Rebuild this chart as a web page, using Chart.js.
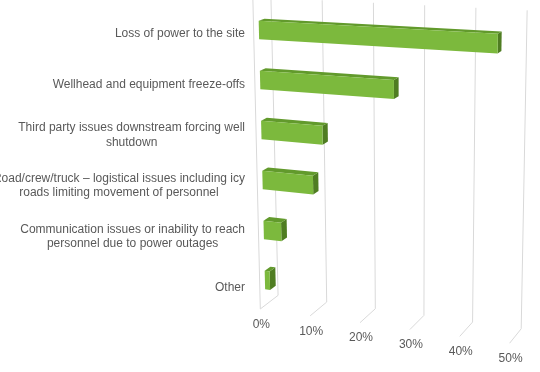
<!DOCTYPE html>
<html>
<head>
<meta charset="utf-8">
<script src="https://cdn.jsdelivr.net/npm/chart.js@4"></script>
<style>
  html, body { margin: 0; padding: 0; background: #fff; }
</style>
</head>
<body>
<canvas id="chart" width="540" height="372"></canvas>
<script>
const categories = [
  "Loss of power to the site",
  "Wellhead and equipment freeze-offs",
  ["Third party issues downstream forcing well", "shutdown"],
  ["Road/crew/truck \u2013 logistical issues including icy", "roads limiting movement of personnel"],
  ["Communication issues or inability to reach", "personnel due to power outages"],
  "Other"
];
const shares = [46, 26, 12, 10, 3.5, 1];
const tickValues = [0, 10, 20, 30, 40, 50];
const tickLabels = ["0%", "10%", "20%", "30%", "40%", "50%"];

// where the front plane of the bars lands on screen, and the depth vanishing point
const quad = { tl: [258.3, 5], tr: [519, 18], bl: [265.5, 305], br: [513, 339] };
const vanish = [976, -239];
const depth = { front: -0.0073, barBack: 0.008, wall: 0.0177, label: -0.014 };

const perspective = {
  id: "perspective",
  beforeDatasetsDraw() {
    return false; // bars are drawn below, in perspective
  },
  afterDraw(chart) {
    const ctx = chart.ctx;
    const area = chart.chartArea;
    const xs = chart.scales.x;
    const H = area.bottom - area.top;

    function proj(px, py, lam) {
      const u = (px - area.left) / (area.right - area.left);
      const v = (py - area.top) / H;
      const tx = quad.tl[0] + (quad.tr[0] - quad.tl[0]) * u;
      const ty = quad.tl[1] + (quad.tr[1] - quad.tl[1]) * u;
      const bx = quad.bl[0] + (quad.br[0] - quad.bl[0]) * u;
      const by = quad.bl[1] + (quad.br[1] - quad.bl[1]) * u;
      const x = tx + (bx - tx) * v;
      const y = ty + (by - ty) * v;
      return [x + lam * (vanish[0] - x), y + lam * (vanish[1] - y)];
    }

    function poly(pts, fill) {
      ctx.beginPath();
      ctx.moveTo(pts[0][0], pts[0][1]);
      for (let i = 1; i < pts.length; i++) ctx.lineTo(pts[i][0], pts[i][1]);
      ctx.closePath();
      ctx.fillStyle = fill;
      ctx.fill();
    }

    ctx.save();
    // walls + floor
    ctx.strokeStyle = "#d9d9d9";
    ctx.lineWidth = 1;
    tickValues.forEach((t) => {
      const px = xs.getPixelForValue(t);
      const a = proj(px, area.top - 0.01 * H, depth.wall);
      const b = proj(px, area.bottom, depth.wall);
      const c = proj(px, area.bottom, depth.front);
      ctx.beginPath();
      ctx.moveTo(a[0], a[1]);
      ctx.lineTo(b[0], b[1]);
      ctx.lineTo(c[0], c[1]);
      ctx.stroke();
    });
    const e1 = proj(area.left, area.top - 0.03 * H, depth.front);
    const e2 = proj(area.left, area.bottom, depth.front);
    ctx.beginPath();
    ctx.moveTo(e1[0], e1[1]);
    ctx.lineTo(e2[0], e2[1]);
    ctx.stroke();

    // bars
    const meta = chart.getDatasetMeta(0);
    meta.data.forEach((bar) => {
      const p = bar.getProps(["x", "y", "base", "height"], true);
      const y0 = p.y - p.height / 2, y1 = p.y + p.height / 2;
      const ftl = proj(p.base, y0, 0), ftr = proj(p.x, y0, 0);
      const fbr = proj(p.x, y1, 0), fbl = proj(p.base, y1, 0);
      const btl = proj(p.base, y0, depth.barBack), btr = proj(p.x, y0, depth.barBack);
      const bbr = proj(p.x, y1, depth.barBack);
      poly([ftr, btr, bbr, fbr], "#4f7d22");
      poly([ftl, ftr, btr, btl], "#629a2c");
      poly([ftl, ftr, fbr, fbl], "#7cb93d");
    });

    // category labels
    ctx.fillStyle = "#595959";
    ctx.font = '12px "Liberation Sans", Arial, sans-serif';
    ctx.textAlign = "center";
    ctx.textBaseline = "middle";
    const lineH = 14.5;
    categories.forEach((cat, i) => {
      const lines = Array.isArray(cat) ? cat : [cat];
      const yc = proj(area.left, meta.data[i].y, depth.label)[1];
      const maxW = Math.max(...lines.map((l) => ctx.measureText(l).width));
      const cx = 245 - maxW / 2;
      lines.forEach((l, k) => {
        ctx.fillText(l, cx, yc - ((lines.length - 1) * lineH) / 2 + k * lineH);
      });
    });

    // value axis labels
    tickValues.forEach((t, i) => {
      const c = proj(xs.getPixelForValue(t), area.bottom, depth.front);
      ctx.fillText(tickLabels[i], c[0] + 1, c[1] + 15.5);
    });
    ctx.restore();
  }
};

new Chart(document.getElementById("chart"), {
  type: "bar",
  data: {
    labels: categories,
    datasets: [{
      data: shares,
      backgroundColor: "#7cb93d",
      barPercentage: 0.37,
      categoryPercentage: 1
    }]
  },
  options: {
    indexAxis: "y",
    responsive: false,
    animation: false,
    layout: { padding: { left: 258.3, top: 5, right: 21, bottom: 67 } },
    plugins: { legend: { display: false }, tooltip: { enabled: false } },
    scales: {
      x: { display: false, min: 0, max: 50 },
      y: { display: false }
    }
  },
  plugins: [perspective]
});
</script>
</body>
</html>
